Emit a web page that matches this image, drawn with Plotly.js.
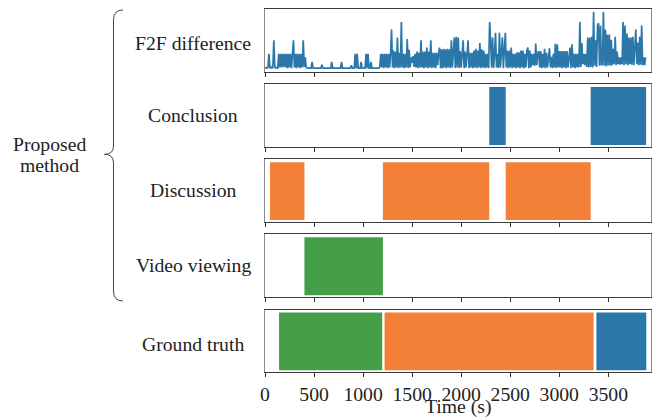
<!DOCTYPE html>
<html>
<head>
<meta charset="utf-8">
<script src="https://cdn.plot.ly/plotly-3.0.1.min.js"></script>
<style>html,body{margin:0;padding:0;background:#fff;}#chart{width:659px;height:418px;}</style>
</head>
<body>
<div id="chart"></div>
<script>
// ---- data ----
const panelLabels = ["F2F difference", "Conclusion", "Discussion", "Video viewing", "Ground truth"];
const groupLabel = ["Proposed", "method"];
const xTickVals = [0, 500, 1000, 1500, 2000, 2500, 3000, 3500];
const xTickText = ["0", "500", "1000", "1500", "2000", "2500", "3000", "3500"];
const xTitle = "Time (s)";

const f2fStep = 10; // seconds between samples
const f2fValues = [
  2,1,1,2,26,2,3,1,2,50,
  3,1,2,1,26,2,26,2,26,3,
  26,2,26,1,26,2,26,1,26,50,
  2,26,1,26,2,26,1,26,2,50,
  3,20,2,1,1,1,1,1,12,1,
  1,1,1,1,1,1,1,1,7,1,
  1,1,1,1,1,1,1,1,12,1,
  1,1,1,1,1,1,1,1,12,1,
  1,1,1,1,1,1,1,1,6,1,
  1,1,26,1,26,1,1,1,12,1,
  1,1,1,26,1,26,1,1,12,1,
  1,1,1,1,1,1,1,3,26,2,
  26,1,26,2,26,1,26,2,26,69,
  2,32,1,30,2,55,1,28,2,82,
  2,26,1,26,2,52,1,33,2,20,
  10,22,3,26,2,30,1,28,2,50,
  2,30,1,30,2,37,1,30,2,50,
  1,28,2,28,1,28,6,28,37,1,
  34,1,35,2,34,1,35,2,34,1,
  50,2,34,55,1,56,2,55,1,31,
  2,31,50,1,30,2,30,50,1,28,
  2,28,1,32,2,35,1,32,2,45,
  1,34,2,32,1,26,2,26,1,82,
  49,2,55,1,26,63,2,26,1,63,
  2,26,55,1,26,63,2,32,1,32,
  2,37,1,26,2,26,1,29,2,29,
  1,32,2,32,1,26,2,32,37,1,
  32,2,26,6,26,5,44,6,26,31,
  2,31,1,26,2,35,1,28,2,26,
  36,2,21,1,26,2,44,1,43,2,
  31,2,31,1,31,2,31,1,31,2,
  26,37,1,43,2,26,1,26,2,26,
  2,82,3,45,8,26,6,26,3,55,
  2,55,3,56,2,100,5,50,3,76,
  80,5,76,6,8,100,5,69,4,60,
  6,60,5,51,6,35,8,56,6,30,
  8,20,7,20,8,82,6,76,8,62,
  6,55,8,55,7,56,6,56,69,8,
  46,6,56,7,76,6,20,6,20
];

const conclusionStart = [2286, 3320];
const conclusionEnd   = [2454, 3885];
const discussionStart = [51, 1202, 2454];
const discussionEnd   = [402, 2286, 3320];
const videoStart = [402];
const videoEnd   = [1202];
const truthStart = [143, 1219, 3378];
const truthEnd   = [1195, 3350, 3887];
const truthPhase = ["video", "discussion", "conclusion"];

// ---- styles ----
const colors = {conclusion: "#2b77a9", discussion: "#f47f36", video: "#459e48"};
const FONT = "Liberation Serif, Times New Roman, serif";
const FS = 19.7;
const xRange = [0, 3935];
const W = 659, H = 418, ML = 265, MR = 8, MT = 9, MB = 46;
const PW = W - ML - MR, PH = H - MT - MB;
const labelShift = [3, 0, -0.5, -0.5, 3]; // px downward from panel centre

const h = 62.5 / PH;
const step = (1 - h) / 4;
const domains = [0, 1, 2, 3, 4].map(k => [1 - k * step - h, 1 - k * step]);
domains[0][1] = 1; domains[4][0] = 0;

function durations(s, e) { return s.map((v, i) => e[i] - v); }

const traces = [];
traces.push({
  type: "scatter", mode: "lines",
  x: f2fValues.map((_, i) => i * f2fStep), y: f2fValues,
  line: {color: colors.conclusion, width: 1.7},
  xaxis: "x", yaxis: "y", hoverinfo: "skip"
});
function barTrace(starts, ends, col, ax) {
  return {
    type: "bar", orientation: "h",
    y: starts.map(() => 0.5), base: starts, x: durations(starts, ends),
    width: 1, marker: {color: col, line: {width: 0}},
    xaxis: "x" + ax, yaxis: "y" + ax, hoverinfo: "skip"
  };
}
traces.push(barTrace(conclusionStart, conclusionEnd, colors.conclusion, 2));
traces.push(barTrace(discussionStart, discussionEnd, colors.discussion, 3));
traces.push(barTrace(videoStart, videoEnd, colors.video, 4));
traces.push(barTrace(truthStart, truthEnd, truthPhase.map(p => colors[p]), 5));

const layout = {
  width: W, height: H,
  margin: {l: ML, r: MR, t: MT, b: MB, pad: 0},
  paper_bgcolor: "#fff", plot_bgcolor: "#fff",
  showlegend: false, barmode: "overlay",
  font: {family: FONT, size: FS, color: "#222"},
  annotations: [], shapes: []
};

for (let k = 0; k < 5; k++) {
  const sfx = k === 0 ? "" : String(k + 1);
  layout["xaxis" + sfx] = {
    domain: [0, 1], range: xRange, anchor: "y" + sfx,
    tickvals: xTickVals, ticktext: xTickText,
    showticklabels: k === 4,
    ticks: "outside", ticklen: 4, tickwidth: 1, tickcolor: "#333",
    showline: true, mirror: true, linecolor: "#3a3a3a", linewidth: 1,
    showgrid: false, zeroline: false, fixedrange: true,
    tickfont: {family: FONT, size: FS, color: "#222"}
  };
  if (k !== 0) layout["xaxis" + sfx].matches = "x";
  layout["yaxis" + sfx] = {
    domain: domains[k], anchor: "x" + sfx,
    range: k === 0 ? [-5, 105] : [-0.03, 1.05],
    showticklabels: false, ticks: "",
    showline: true, mirror: true, linecolor: "#8a8a8a", linewidth: 1,
    showgrid: false, zeroline: false, fixedrange: true
  };
  layout.annotations.push({
    xref: "paper", yref: "paper",
    x: (193 - ML) / PW, y: (domains[k][0] + domains[k][1]) / 2 - labelShift[k] / PH,
    xanchor: "center", yanchor: "middle", showarrow: false,
    text: panelLabels[k], font: {family: FONT, size: FS, color: "#222"}
  });
}

function px(xp) { return ((xp - ML) / PW).toFixed(5); }
function py(yp) { return ((H - MB - yp) / PH).toFixed(5); }
// x-axis title
layout.annotations.push({xref: "paper", yref: "paper", x: 0.5, y: (H - MB - 406.5) / PH,
  xanchor: "center", yanchor: "middle", showarrow: false,
  text: xTitle, font: {family: FONT, size: FS, color: "#222"}});
layout.annotations.push({xref: "paper", yref: "paper", x: (49.5 - ML) / PW, y: (H - MB - 143.5) / PH,
  xanchor: "center", yanchor: "middle", showarrow: false, text: groupLabel[0], font: {family: FONT, size: FS, color: "#222"}});
layout.annotations.push({xref: "paper", yref: "paper", x: (49.5 - ML) / PW, y: (H - MB - 165) / PH,
  xanchor: "center", yanchor: "middle", showarrow: false, text: groupLabel[1], font: {family: FONT, size: FS, color: "#222"}});

// curly brace
const bp = `M ${px(123)},${py(10)} Q ${px(113.5)},${py(10)} ${px(113.5)},${py(20)} L ${px(113.5)},${py(146)} Q ${px(113.5)},${py(154.3)} ${px(104.5)},${py(154.3)} Q ${px(113.5)},${py(154.3)} ${px(113.5)},${py(163)} L ${px(113.5)},${py(291)} Q ${px(113.5)},${py(301)} ${px(123)},${py(301)}`;
layout.shapes.push({type: "path", xref: "paper", yref: "paper", path: bp, line: {color: "#444", width: 1}});

Plotly.newPlot("chart", traces, layout, {staticPlot: true, displayModeBar: false});
</script>
</body>
</html>
